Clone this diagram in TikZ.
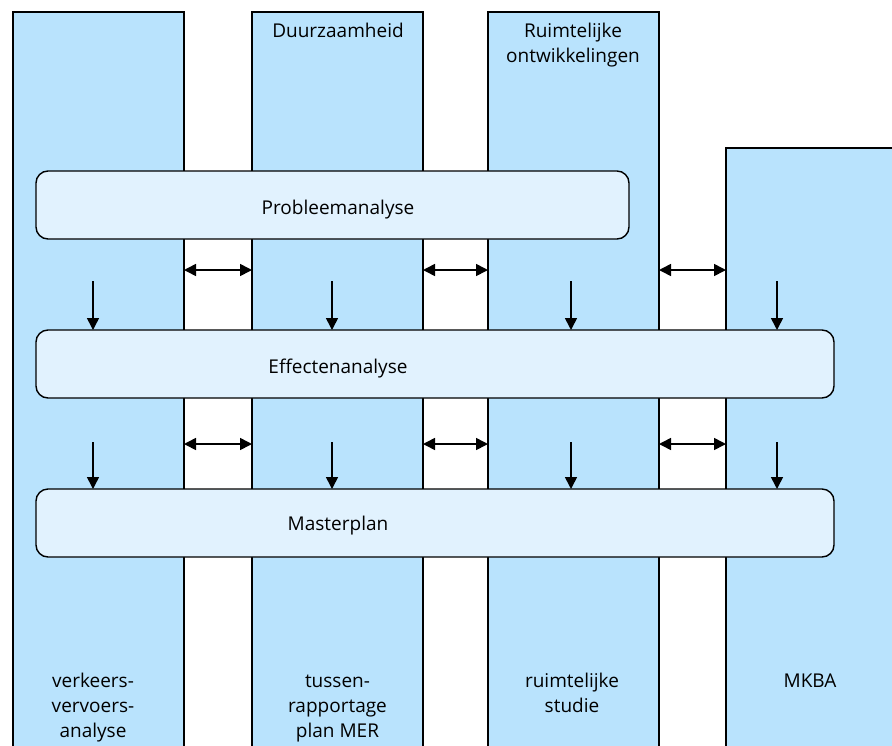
\documentclass[tikz,border=0pt]{standalone}
\usepackage{fontspec}
\setmainfont{Open Sans}
\usetikzlibrary{arrows.meta}
\definecolor{colblue}{HTML}{B9E3FD}
\definecolor{boxblue}{HTML}{E1F2FE}

\begin{document}
\begin{tikzpicture}[x=1pt,y=-1pt,
		column/.style={shape=rectangle,draw=black,fill=colblue,line width=1.4pt,outer sep=0pt,inner sep=0pt},
		phase/.style={shape=rectangle,rounded corners=12pt,draw=black,fill=boxblue,line width=1.4pt,outer sep=0pt,inner sep=0pt,minimum height=68pt},
		txt/.style={font=\fontsize{19}{25}\selectfont,align=center,inner sep=0pt,anchor=base},
		flow/.style={-{Triangle[length=12pt,width=12pt]},line width=1.6pt},
		link/.style={{Triangle[length=12pt,width=12pt]}-{Triangle[length=12pt,width=12pt]},line width=1.6pt}]

		\useasboundingbox (0,0) rectangle (892,745);

		\node[column,minimum width=171pt,minimum height=760pt] (c1) at (98.5,392) {};
		\node[column,minimum width=171pt,minimum height=760pt] (c2) at (337.5,392) {};
		\node[column,minimum width=171pt,minimum height=760pt] (c3) at (573.5,392) {};
		\node[column,minimum width=174pt,minimum height=624pt] (c4) at (813,460) {};

		\node[phase,minimum width=593pt] (prob) at (332.5,205) {};
		\node[phase,minimum width=798pt] (eff)  at (435,364)   {};
		\node[phase,minimum width=798pt] (mp)   at (435,523)   {};

		\node[txt] (probtxt) at (338,214) {Probleemanalyse};
		\node[txt] (efftxt)  at (338,373) {Effectenanalyse};
		\node[txt] (mptxt)   at (338,530) {Masterplan};

		\node[txt] (duur) at (338,37)   {Duurzaamheid};
		\node[txt] (ruim) at (573,62)   {Ruimtelijke\\ontwikkelingen};
		\node[txt] (vva)  at (93,737)   {verkeers-\\vervoers-\\analyse};
		\node[txt] (tus)  at (337.5,737) {tussen-\\rapportage\\plan MER};
		\node[txt] (rst)  at (572,712)  {ruimtelijke\\studie};
		\node[txt] (mkba) at (810,687)  {MKBA};

		\coordinate (r1) at (0,270);
		\coordinate (r2) at (0,444);
		\coordinate (a1) at (93,281);
		\coordinate (a2) at (332,281);
		\coordinate (a3) at (571,281);
		\coordinate (a4) at (777,281);
		\coordinate (b1) at (93,442);
		\coordinate (b2) at (332,442);
		\coordinate (b3) at (571,442);
		\coordinate (b4) at (777,442);

		\draw[link] (c1.east |- r1) -- (c2.west |- r1);
		\draw[link] (c2.east |- r1) -- (c3.west |- r1);
		\draw[link] (c3.east |- r1) -- (c4.west |- r1);
		\draw[link] (c1.east |- r2) -- (c2.west |- r2);
		\draw[link] (c2.east |- r2) -- (c3.west |- r2);
		\draw[link] (c3.east |- r2) -- (c4.west |- r2);

		\foreach \s in {a1,a2,a3,a4}
			\draw[flow] (\s) -- (\s |- eff.north);
		\foreach \s in {b1,b2,b3,b4}
			\draw[flow] (\s) -- (\s |- mp.north);
\end{tikzpicture}
\end{document}
